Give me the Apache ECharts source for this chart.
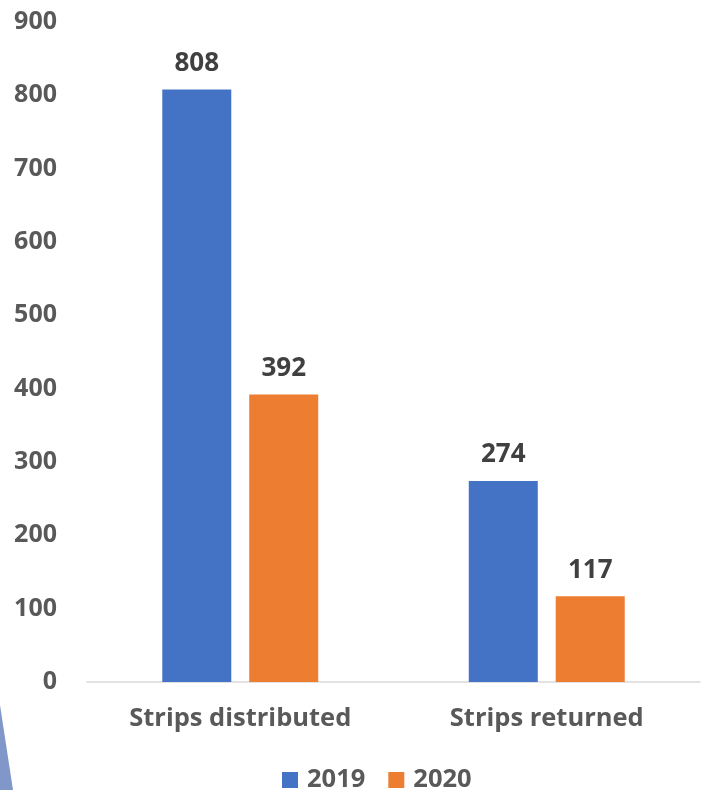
<!DOCTYPE html>
<html><head><meta charset="utf-8">
<script src="https://cdn.jsdelivr.net/npm/echarts@6/dist/echarts.min.js"></script>
<style>html,body{margin:0;padding:0;background:#fff}#c{width:701px;height:790px}</style>
</head><body><div id="c"></div>
<script>
var categories = ['Strips distributed', 'Strips returned'];
var seriesNames = ['2019', '2020'];
var values2019 = [808, 274];
var values2020 = [392, 117];
var colors = ['#4472C4', '#ED7D31'];
var font = '"Open Sans", "Liberation Sans", sans-serif';
var chart = echarts.init(document.getElementById('c'));
function lab() {
  return {show: true, position: 'top', distance: 13, color: '#404040', fontSize: 26, fontWeight: 'bold', fontFamily: font};
}
chart.setOption({
  animation: false,
  grid: {left: 87, right: 1, top: 22, bottom: 108, containLabel: false},
  legend: {
    data: seriesNames, top: 762, left: 277, itemWidth: 16, itemHeight: 16, itemGap: 23,
    icon: 'rect',
    textStyle: {color: '#595959', fontSize: 25.5, fontWeight: 'bold', fontFamily: font, padding: [0, 0, 0, 4]}
  },
  xAxis: {
    type: 'category', data: categories,
    axisLine: {lineStyle: {color: '#D9D9D9', width: 1.5}},
    axisTick: {show: false},
    axisLabel: {color: '#595959', fontSize: 25.5, fontWeight: 'bold', fontFamily: font, margin: 24}
  },
  yAxis: {
    type: 'value', min: 0, max: 900, interval: 100,
    axisLine: {show: false}, axisTick: {show: false},
    splitLine: {show: false},
    axisLabel: {color: '#595959', fontSize: 25, fontWeight: 'bold', fontFamily: font, margin: 30}
  },
  series: [
    {name: seriesNames[0], type: 'bar', data: values2019, barWidth: 69, barGap: '26%', itemStyle: {color: colors[0]}, label: lab()},
    {name: seriesNames[1], type: 'bar', data: values2020, barWidth: 69, itemStyle: {color: colors[1]}, label: lab()}
  ],
  graphic: [{
    type: 'polygon', silent: true,
    shape: {points: [[0, 705], [13, 790], [0, 790]]},
    style: {fill: '#8196C9'}
  }]
});
</script></body></html>
